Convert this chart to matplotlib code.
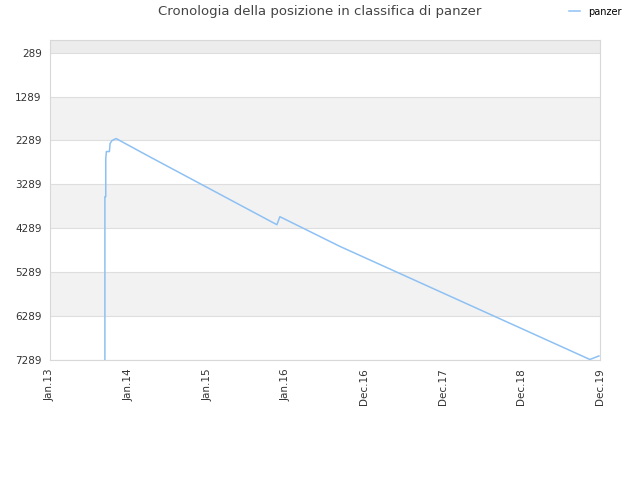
import matplotlib
matplotlib.use("Agg")
import matplotlib.pyplot as plt
import matplotlib.dates as mdates
import numpy as np
from datetime import date

dates = ["2013-09-13", "2013-09-13", "2013-09-17", "2013-09-17", "2013-09-20",
         "2013-10-04", "2013-10-07", "2013-10-16", "2013-11-04", "2014-04-10",
         "2014-11-29", "2015-11-21", "2015-12-05", "2016-09-09", "2017-05-31",
         "2019-11-14", "2019-12-26"]
ranks = [7289, 3568, 3568, 2701, 2541, 2541, 2359, 2290, 2245, 2662,
         3272, 4207, 4025, 4702, 5287, 7277, 7197]
tick_dates = ["2013-01-01", "2014-01-01", "2015-01-01", "2016-01-01",
              "2016-12-31", "2017-12-31", "2018-12-31", "2019-12-31"]
tick_labels = ["Jan.13", "Jan.14", "Jan.15", "Jan.16", "Dec.16", "Dec.17", "Dec.18", "Dec.19"]
y_ticks = [289, 1289, 2289, 3289, 4289, 5289, 6289, 7289]

x = mdates.datestr2num(dates)
xt = mdates.datestr2num(tick_dates)

fig = plt.figure(figsize=(6.4, 4.8), dpi=100)
ax = fig.add_axes([50/640, 1-360/480, 550/640, 320/480])

ax.set_xlim(xt[0], xt[-1])
ax.set_ylim(7289, 0)

ax.axhspan(0, 289, color="#ececec", zorder=0, lw=0)
for i in range(1, len(y_ticks) - 1, 2):
    ax.axhspan(y_ticks[i], y_ticks[i + 1], color="#f2f2f2", zorder=0, lw=0)
for yv in y_ticks:
    ax.axhline(yv, color="#dedede", lw=0.8, zorder=1)

ax.plot(x, ranks, color="#8ec1f3", lw=1.1, zorder=3, label="panzer")

ax.set_yticks(y_ticks)
ax.set_yticklabels([str(v) for v in y_ticks], fontsize=7.5, color="#333333")
ax.set_xticks(xt)
ax.set_xticklabels(tick_labels, rotation=90, fontsize=7.5, color="#333333")
ax.tick_params(axis="both", length=0, pad=6)
for s in ax.spines.values():
    s.set_color("#d8d8d8")
    s.set_linewidth(0.8)

fig.text(0.5, 1-12/480, "Cronologia della posizione in classifica di panzer",
         ha="center", va="center", fontsize=9.5, color="#444444")
fig.legend(loc="upper right", bbox_to_anchor=(0.985, 1.004), frameon=False,
           fontsize=7, handlelength=1.2, handletextpad=0.8)

fig.savefig("out.png", dpi=100)
